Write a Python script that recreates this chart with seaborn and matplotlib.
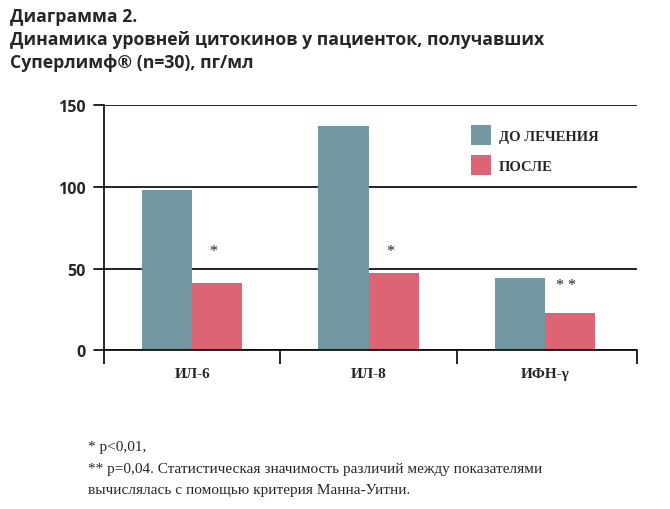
import matplotlib
matplotlib.use("Agg")
import matplotlib.pyplot as plt
import seaborn as sns
import pandas as pd
from matplotlib.ticker import FixedLocator
from matplotlib.patches import Patch

categories = ["ИЛ-6", "ИЛ-8", "ИФН-γ"]
series_names = ["ДО ЛЕЧЕНИЯ", "ПОСЛЕ"]
before = [98, 137, 44]
after = [41, 47, 23]
stars = ["*", "*", "* *"]
star_y = [61, 61, 40]
yticks = [0, 50, 100, 150]

colors = ["#7297A1", "#DC6474"]

df = pd.DataFrame({
    "cat": categories * 2,
    "series": [series_names[0]] * 3 + [series_names[1]] * 3,
    "value": before + after,
})

sns.set_theme(style="white")
plt.rcParams["font.family"] = ["DejaVu Sans"]

fig = plt.figure(figsize=(6.7, 5.1), dpi=100)
ax = fig.add_axes([104 / 670, 1 - 351.3 / 510, (637.3 - 104) / 670, (351.3 - 106) / 510])

sns.barplot(data=df, x="cat", y="value", hue="series", palette=colors,
            width=0.57, gap=0, saturation=1, ax=ax, legend=False, linewidth=0)

XR = 2.523
ax.set_xlim(-0.5, XR)
ax.set_ylim(0, 150)
ax.set_xlabel("")
ax.set_ylabel("")

for s in ["top", "right", "bottom"]:
    ax.spines[s].set_visible(False)
ax.spines["left"].set_color("black")
ax.spines["left"].set_linewidth(1.2)

ax.set_yticks(yticks)
ax.set_yticklabels([str(v) for v in yticks], fontfamily="Open Sans", fontweight="bold", fontsize=11.5)
ax.yaxis.grid(True, color="black", linewidth=1.2)
ax.set_axisbelow(True)
ax.tick_params(axis="y", left=True, length=0, pad=13)
# extend grid lines left of the spine
for v in yticks:
    ax.plot([-0.5 - 10 / 176.4, -0.5], [v, v], color="black", lw=1.2, clip_on=False)

ax.set_xticks(range(len(categories)))
ax.set_xticklabels(categories, fontfamily="Liberation Serif", fontweight="bold", fontsize=11)
ax.tick_params(axis="x", which="major", length=0, pad=12)
ax.xaxis.set_minor_locator(FixedLocator([-0.5, 0.5, 1.5, XR]))
ax.tick_params(axis="x", which="minor", direction="out", length=10, width=1.2, color="black", bottom=True)
ax.axhline(0, color="black", lw=1.2, clip_on=False)

for i, (s, y) in enumerate(zip(stars, star_y)):
    ax.text(i + 0.12, y, s, ha="center", va="center", fontsize=11.5, fontfamily="Liberation Serif")

handles = [Patch(facecolor=colors[0], edgecolor="none"), Patch(facecolor=colors[1], edgecolor="none")]
leg = ax.legend(handles, series_names, loc="upper left",
                bbox_to_anchor=((471 - 104) / 533.3, 1 - 20 / 245.3),
                frameon=False, handlelength=1.35, handleheight=1.73, handletextpad=0.55, labelspacing=0.72,
                borderpad=0, borderaxespad=0,
                prop={"family": "Liberation Serif", "weight": "bold", "size": 10.5})

title = "Диаграмма 2.\nДинамика уровней цитокинов у пациенток, получавших\nСуперлимф® (n=30), пг/мл"
fig.text(10 / 670, 1 - 8 / 510, title, ha="left", va="top", fontsize=12.7, fontweight="bold",
         fontfamily="Open Sans", linespacing=1.36)

foot = "* p<0,01,\n** p=0,04. Статистическая значимость различий между показателями\nвычислялась с помощью критерия Манна-Уитни."
fig.text(88 / 670, 1 - 441 / 510, foot, ha="left", va="top", fontsize=11, fontfamily="Liberation Serif",
         linespacing=1.86)

fig.savefig("out.png", dpi=100)
